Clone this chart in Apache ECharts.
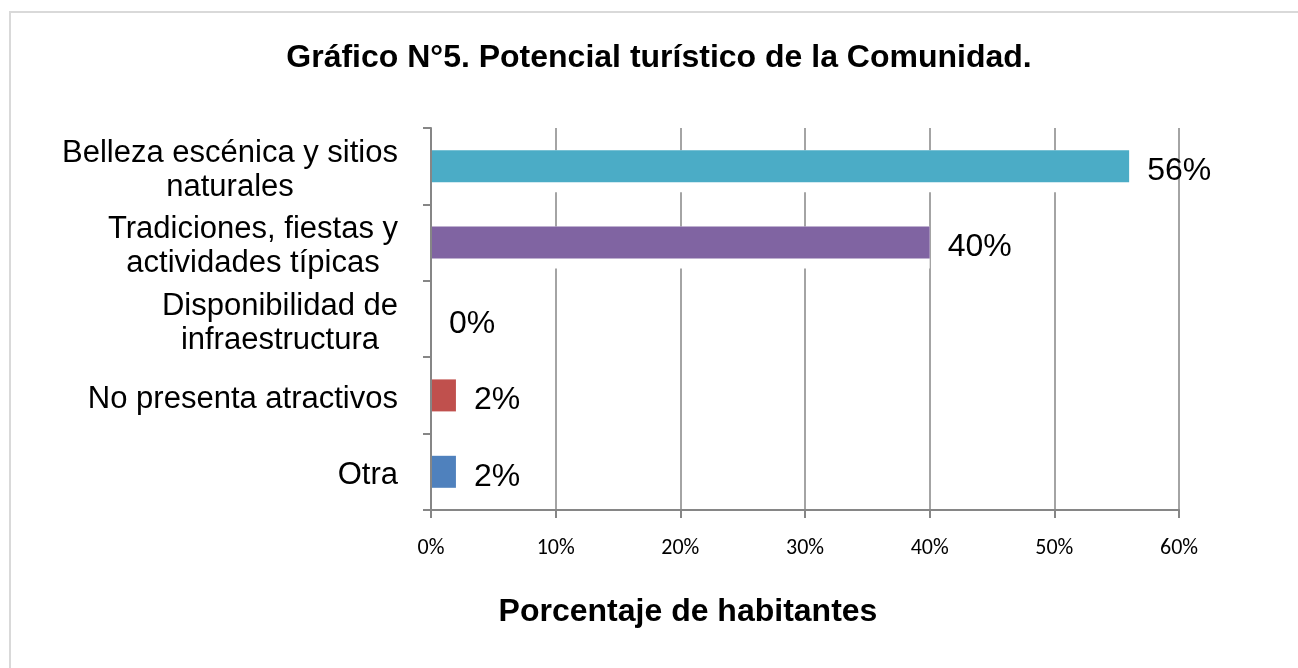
<!DOCTYPE html>
<html>
<head>
<meta charset="utf-8">
<script src="https://cdn.jsdelivr.net/npm/echarts@6/dist/echarts.min.js"></script>
<style>
    html, body { margin: 0; padding: 0; background: #fff; }
    #container { width: 1298px; height: 668px; }
</style>
</head>
<body>
<div id="container"></div>
<script>
var categories = [
    'Belleza escénica y sitios\nnaturales',
    'Tradiciones, fiestas y\nactividades típicas',
    'Disponibilidad de\ninfraestructura',
    'No presenta atractivos',
    'Otra'
];
var values = [56, 40, 0, 2, 2];
var xTicks = [0, 10, 20, 30, 40, 50, 60];
var barColors = ['#4BACC6', '#8064A2', '#9BBB59', '#C0504D', '#4F81BD'];

(function container() {
    var dom = document.getElementById('container');
    var chart = echarts.init(dom);
    var textFont = "'Liberation Sans', Arial, sans-serif";
    var axisGray = '#868686';

    var option = {
        backgroundColor: '#fff',
        animation: false,
        title: {
            text: 'Gráfico N°5. Potencial turístico de la Comunidad.',
            left: 654,
            textAlign: 'center',
            top: 37,
            textStyle: {
                fontFamily: textFont,
                fontWeight: 'bold',
                fontSize: 32,
                color: '#000'
            }
        },
        // frame of the chart area
        graphic: [{
            type: 'rect',
            shape: { x: 10, y: 12, width: 1320, height: 700 },
            style: { fill: 'none', stroke: '#d9d9d9', lineWidth: 2 },
            silent: true
        }],
        grid: {
            left: 431,
            right: 119,
            top: 128,
            bottom: 158
        },
        xAxis: {
            type: 'value',
            min: xTicks[0],
            max: xTicks[xTicks.length - 1],
            interval: xTicks[1] - xTicks[0],
            name: 'Porcentaje de habitantes',
            nameLocation: 'middle',
            nameGap: 86,
            nameTextStyle: {
                fontFamily: textFont,
                fontWeight: 'bold',
                fontSize: 32,
                color: '#000',
                padding: [0, 234, 0, 0]
            },
            axisLine: { show: true, lineStyle: { color: axisGray, width: 2 } },
            axisTick: { show: true, length: 8, lineStyle: { color: axisGray, width: 2 } },
            axisLabel: {
                margin: 27,
                formatter: '{value}%',
                fontFamily: "Carlito, 'Liberation Sans Narrow', 'DejaVu Sans Condensed', sans-serif",
                fontSize: 22,
                color: '#000'
            },
            splitLine: { show: true, lineStyle: { color: axisGray, width: 1.5 } }
        },
        yAxis: {
            type: 'category',
            inverse: true,
            z: 3,
            data: categories,
            axisLine: { show: true, lineStyle: { color: axisGray, width: 2 } },
            axisTick: { show: true, length: 8, lineStyle: { color: axisGray, width: 2 } },
            axisLabel: {
                margin: 33,
                color: '#000',
                fontFamily: textFont,
                fontSize: 31,
                lineHeight: 34,
                padding: [8, 0, 0, 0],
                formatter: function (v) {
                    return v.split('\n').map(function (s) { return '{c|' + s + '}'; }).join('\n');
                },
                rich: {
                    c: {
                        align: 'center',
                        fontFamily: textFont,
                        fontSize: 31,
                        lineHeight: 34,
                        color: '#000'
                    }
                }
            },
            splitLine: { show: false }
        },
        series: [
            {
                // white halo behind the bars
                name: 'halo',
                type: 'bar',
                barWidth: 42,
                silent: true,
                itemStyle: { color: '#fff' },
                data: values
            },
            {
                name: 'Porcentaje',
                type: 'bar',
                barWidth: 32,
                barGap: '-100%',
                itemStyle: {
                    color: function (p) { return barColors[p.dataIndex]; }
                },
                label: {
                    show: true,
                    position: 'right',
                    distance: 18,
                    offset: [0, 5],
                    formatter: '{c}%',
                    fontFamily: textFont,
                    fontSize: 32,
                    color: '#000'
                },
                data: values
            }
        ]
    };

    if (option && typeof option === 'object') {
        chart.setOption(option, true);
    }
})();
</script>
</body>
</html>
